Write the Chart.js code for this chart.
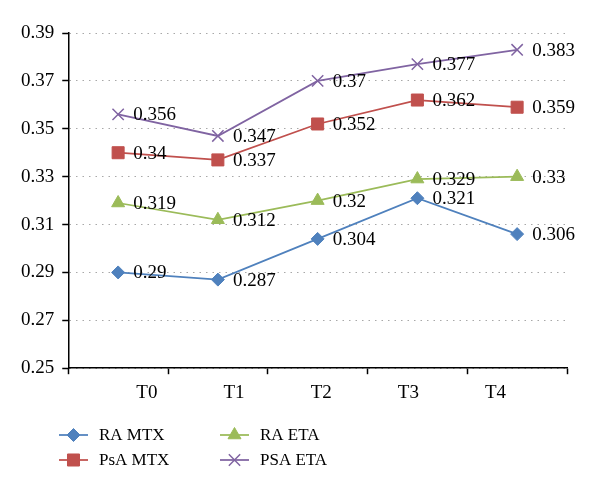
<!DOCTYPE html>
<html lang="en">
<head>
<meta charset="UTF-8">
<title>RA / PsA MTX and ETA</title>
<script src="https://cdn.jsdelivr.net/npm/chart.js@4.4.1/dist/chart.umd.min.js"></script>
<style>
    body { margin: 0; background: #fff; }
    #wrap { width: 600px; height: 493px; }
</style>
</head>
<body>
<div id="wrap"><canvas id="chart" width="600" height="493"></canvas></div>
<script>
    // values
    const timePoints = ['T0', 'T1', 'T2', 'T3', 'T4'];
    const raMtx  = [0.29, 0.287, 0.304, 0.321, 0.306];
    const psaMtx = [0.34, 0.337, 0.352, 0.362, 0.359];
    const raEta  = [0.319, 0.312, 0.32, 0.329, 0.33];
    const psaEta = [0.356, 0.347, 0.37, 0.377, 0.383];

    const serif = '"Liberation Serif", "DejaVu Serif", serif';

    function series(label, values, color, style, radius) {
        return {
            label: label,
            data: values.map((v, i) => ({ x: i + 0.5, y: v })),
            xAxisID: 'x',
            borderColor: color,
            backgroundColor: color,
            borderWidth: 1.75,
            pointStyle: style,
            pointRadius: radius,
            pointBackgroundColor: color,
            pointBorderColor: color,
            pointBorderWidth: style === 'crossRot' ? 1.5 : 1,
            tension: 0
        };
    }

    const datasets = [
        series('RA MTX', raMtx, '#4F81BD', 'rectRot', 6.5),
        series('PsA MTX', psaMtx, '#C0504D', 'rect', 8.5),
        series('RA ETA', raEta, '#9BBB59', 'triangle', 7.5),
        series('PSA ETA', psaEta, '#8064A2', 'crossRot', 8)
    ];

    // number next to every point
    const valueLabels = {
        id: 'valueLabels',
        afterDatasetsDraw(chart) {
            const ctx = chart.ctx;
            ctx.save();
            ctx.font = '19px ' + serif;
            ctx.fillStyle = '#000';
            ctx.textBaseline = 'middle';
            chart.data.datasets.forEach((ds, i) => {
                chart.getDatasetMeta(i).data.forEach((pt, j) => {
                    ctx.fillText(String(ds.data[j].y), pt.x + 15, pt.y + 1);
                });
            });
            ctx.restore();
        }
    };

    // 2x2 legend under the axis
    const legendCols = [59, 220];
    const legendRows = [435, 460];
    const gridLegend = {
        id: 'gridLegend',
        afterDraw(chart) {
            const ctx = chart.ctx;
            ctx.save();
            ctx.font = '17px ' + serif;
            ctx.textBaseline = 'middle';
            chart.data.datasets.forEach((ds, i) => {
                const x = legendCols[Math.floor(i / 2)];
                const y = legendRows[i % 2];
                ctx.strokeStyle = ds.borderColor;
                ctx.lineWidth = ds.borderWidth;
                ctx.beginPath();
                ctx.moveTo(x, y);
                ctx.lineTo(x + 29, y);
                ctx.stroke();
                ctx.fillStyle = ds.pointBackgroundColor;
                ctx.lineWidth = ds.pointBorderWidth;
                Chart.helpers.drawPoint(ctx, {
                    pointStyle: ds.pointStyle,
                    radius: ds.pointRadius,
                    borderWidth: ds.pointBorderWidth,
                    rotation: 0
                }, x + 14.5, y);
                ctx.fillStyle = '#000';
                ctx.fillText(ds.label, x + 40, y + 1);
            });
            ctx.restore();
        }
    };

    const tickFont = { family: serif, size: 19 };

    new Chart(document.getElementById('chart'), {
        type: 'line',
        data: { datasets: datasets },
        options: {
            responsive: false,
            animation: false,
            layout: { padding: { left: 13, right: 33, top: 33, bottom: 82 } },
            plugins: {
                legend: { display: false },
                tooltip: { enabled: false }
            },
            scales: {
                x: {
                    type: 'linear',
                    position: 'bottom',
                    min: 0,
                    max: 5,
                    ticks: { display: false, stepSize: 1 },
                    grid: { drawOnChartArea: false, tickLength: 6, tickColor: '#000', tickWidth: 1.5 },
                    border: { color: '#000', width: 1.5 }
                },
                xLabels: {
                    type: 'linear',
                    position: 'bottom',
                    min: -0.9025,
                    max: 4.82,
                    afterBuildTicks: s => { s.ticks = timePoints.map((_, i) => ({ value: i })); },
                    ticks: {
                        callback: v => timePoints[v],
                        font: tickFont,
                        color: '#000',
                        padding: 7,
                        autoSkip: false,
                        maxRotation: 0
                    },
                    grid: { display: false, drawTicks: false },
                    border: { display: false }
                },
                y: {
                    min: 0.25,
                    max: 0.39,
                    ticks: {
                        stepSize: 0.02,
                        callback: v => v.toFixed(2),
                        font: tickFont,
                        color: '#000',
                        padding: 8
                    },
                    grid: { color: '#a8a8a8', tickLength: 6, tickColor: '#000', tickWidth: 1.5 },
                    border: { color: '#000', width: 1.5, dash: [1.5, 5] }
                }
            }
        },
        plugins: [valueLabels, gridLegend]
    });
</script>
</body>
</html>
